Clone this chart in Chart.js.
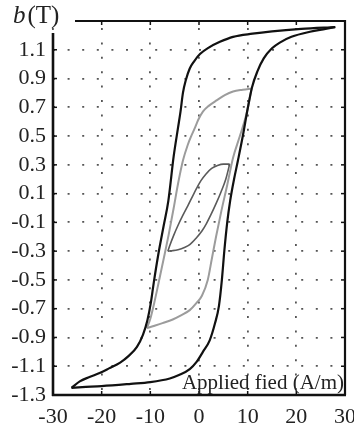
<!DOCTYPE html>
<html><head><meta charset="utf-8">
<script src="https://cdn.jsdelivr.net/npm/chart.js@4.4.0/dist/chart.umd.min.js"></script>
<style>html,body{margin:0;padding:0;background:#fff;overflow:hidden}#wrap{width:354px;height:423px;position:relative}</style>
</head><body><div id="wrap"><canvas id="c" width="354" height="423"></canvas></div>
<script>
const xTicks = [-30, -20, -10, 0, 10, 20, 30];
const yTicks = [-1.3, -1.1, -0.9, -0.7, -0.5, -0.3, -0.1, 0.1, 0.3, 0.5, 0.7, 0.9, 1.1];
const yLabel = 'b(T)';
const xLabel = 'Applied fied (A/m)';

// major loop (black)
const majorDescH = [28, 21, 15, 11, 7, 4.3, 2, 0.2, -1, -1.9, -2.7, -3.3, -3.8, -4.3, -5.2, -6.3, -7.3, -8.4, -9.3, -9.9, -10.6, -11.5, -12.75, -14.5, -16.2, -18.5, -20.3, -22.5, -24.5, -26.2];
const majorDescB = [1.258, 1.245, 1.228, 1.212, 1.19, 1.155, 1.115, 1.07, 1.02, 0.97, 0.89, 0.80, 0.67, 0.56, 0.36, 0.05, -0.13, -0.33, -0.52, -0.66, -0.78, -0.88, -0.965, -1.03, -1.075, -1.115, -1.145, -1.175, -1.205, -1.25];
const majorAscH = [-26.2, -24, -20, -14, -10, -6, -4, -1.9, -0.5, 0.8, 2.2, 3.3, 4.1, 4.7, 5.2, 5.8, 6.4, 7.2, 8.0, 9, 10, 10.9, 12, 13.3, 15, 16.6, 19, 22.8, 26, 28];
const majorAscB = [-1.25, -1.245, -1.238, -1.222, -1.21, -1.185, -1.16, -1.12, -1.07, -1.0, -0.92, -0.8, -0.68, -0.5, -0.3, -0.1, 0.05, 0.2, 0.33, 0.5, 0.69, 0.84, 0.95, 1.04, 1.11, 1.15, 1.19, 1.225, 1.245, 1.258];

// middle minor loop (light gray)
const midDescH = [10.8, 9, 7, 5.3, 3.7, 2, 0.8, -0.2, -0.8, -1.6, -2.3, -3.3, -4.3, -5.2, -6.2, -7.3, -8.3, -9.2, -10.0, -10.7];
const midDescB = [0.83, 0.822, 0.81, 0.785, 0.75, 0.71, 0.67, 0.61, 0.56, 0.5, 0.44, 0.33, 0.17, 0.0, -0.18, -0.36, -0.52, -0.66, -0.77, -0.835];
const midAscH = [-10.7, -9.5, -7.5, -5.4, -3.9, -1.9, -0.5, 0.6, 1.8, 2.6, 3.5, 4.6, 5.8, 7.0, 8.4, 9.8, 10.8];
const midAscB = [-0.835, -0.822, -0.8, -0.775, -0.75, -0.71, -0.66, -0.61, -0.5, -0.36, -0.2, -0.02, 0.16, 0.35, 0.5, 0.66, 0.83];

// small minor loop (dark gray)
const smallDescH = [6.3, 5, 3.8, 2.6, 1.4, 0.4, -0.2, -1.2, -2.3, -3.3, -4.3, -5.2, -6.0, -6.4];
const smallDescB = [0.305, 0.305, 0.295, 0.275, 0.235, 0.19, 0.155, 0.09, 0.015, -0.05, -0.12, -0.19, -0.26, -0.30];
const smallAscH = [-6.4, -5.5, -4.3, -3, -1.9, -0.6, 0.6, 1.5, 2.4, 3.5, 4.5, 5.5, 6.3];
const smallAscB = [-0.30, -0.297, -0.29, -0.275, -0.255, -0.21, -0.16, -0.11, -0.05, 0.03, 0.11, 0.2, 0.305];

const zip = (h, b) => h.map((v, i) => ({x: v, y: b[i]}));
const FONT = 'Liberation Serif';

function curve(h, b, color, width) {
  return {data: zip(h, b), borderColor: color, borderWidth: width, showLine: true,
    pointRadius: 0, cubicInterpolationMode: 'monotone', fill: false};
}

const framePlugin = {
  id: 'frame',
  afterDraw(chart) {
    const {ctx, scales: {x, y}} = chart;
    const left = x.getPixelForValue(xTicks[0]);
    const right = x.getPixelForValue(xTicks[xTicks.length - 1]);
    const top = y.getPixelForValue(1.3);
    const bottom = y.getPixelForValue(yTicks[0]);
    const line = (x1, y1, x2, y2) => { ctx.beginPath(); ctx.moveTo(x1, y1); ctx.lineTo(x2, y2); ctx.stroke(); };
    ctx.save();
    ctx.setLineDash([]);
    ctx.strokeStyle = '#111';
    ctx.lineWidth = 1.5;
    for (const v of xTicks.slice(1, -1)) {
      const px = x.getPixelForValue(v);
      line(px, top, px, top + 4);
      line(px, bottom, px, bottom - 4);
    }
    for (const v of yTicks.slice(1)) {
      const py = y.getPixelForValue(v);
      line(left, py, left + 4, py);
      line(right, py, right - 4, py);
    }
    ctx.lineWidth = 2.6;
    line(left, top + 12, left, bottom + 1);
    line(left - 1, bottom, right + 1, bottom);
    ctx.lineWidth = 2.2;
    line(left + 22, top, right + 1, top);
    line(right, top - 1, right, bottom);

    // axis name texts
    ctx.fillStyle = '#222';
    ctx.textBaseline = 'alphabetic';
    ctx.textAlign = 'right';
    ctx.font = '21px "' + FONT + '"';
    ctx.fillText(xLabel, right - 1, bottom - 6);

    ctx.textAlign = 'left';
    ctx.font = 'italic 25px "' + FONT + '"';
    const b = yLabel.slice(0, 1);
    ctx.fillText(b, 13, 23);
    const bw = ctx.measureText(b).width;
    ctx.font = '25px "' + FONT + '"';
    ctx.fillText(yLabel.slice(1), 13 + bw + 2, 23);
    ctx.restore();
  }
};

new Chart(document.getElementById('c'), {
  type: 'scatter',
  data: {datasets: [
    curve(majorDescH, majorDescB, '#111', 2.2),
    curve(majorAscH, majorAscB, '#111', 2.2),
    curve(midDescH, midDescB, '#9c9c9c', 2),
    curve(midAscH, midAscB, '#9c9c9c', 2),
    curve(smallDescH, smallDescB, '#5a5a5a', 1.6),
    curve(smallAscH, smallAscB, '#5a5a5a', 1.6)
  ]},
  options: {
    responsive: false, animation: false, devicePixelRatio: 1,
    layout: {padding: {top: 21, right: 0, left: 0, bottom: 0}},
    plugins: {legend: {display: false}, tooltip: {enabled: false}},
    scales: {
      x: {
        type: 'linear', min: -30, max: 30,
        afterBuildTicks: s => { s.ticks = xTicks.map(v => ({value: v})); },
        afterFit: s => { s.height = 28; s.paddingLeft = 0; s.paddingRight = 9; },
        ticks: {font: {family: FONT, size: 22}, color: '#222', padding: 9, maxRotation: 0, autoSkip: false},
        grid: {color: '#555', lineWidth: 1.8, drawTicks: false},
        border: {display: false, dash: [2, 12.4], dashOffset: 7.4}
      },
      y: {
        type: 'linear', min: -1.3, max: 1.3,
        afterBuildTicks: s => { s.ticks = yTicks.map(v => ({value: v})); },
        afterFit: s => { s.width = 53; s.paddingTop = 0; s.paddingBottom = 0; },
        ticks: {font: {family: FONT, size: 22}, color: '#222', padding: 7, autoSkip: false,
          callback: v => v.toFixed(1)},
        grid: {color: '#555', lineWidth: 1.8, drawTicks: false},
        border: {display: false, dash: [2, 12.6], dashOffset: 0}
      }
    }
  },
  plugins: [framePlugin]
});
</script>
</body></html>
